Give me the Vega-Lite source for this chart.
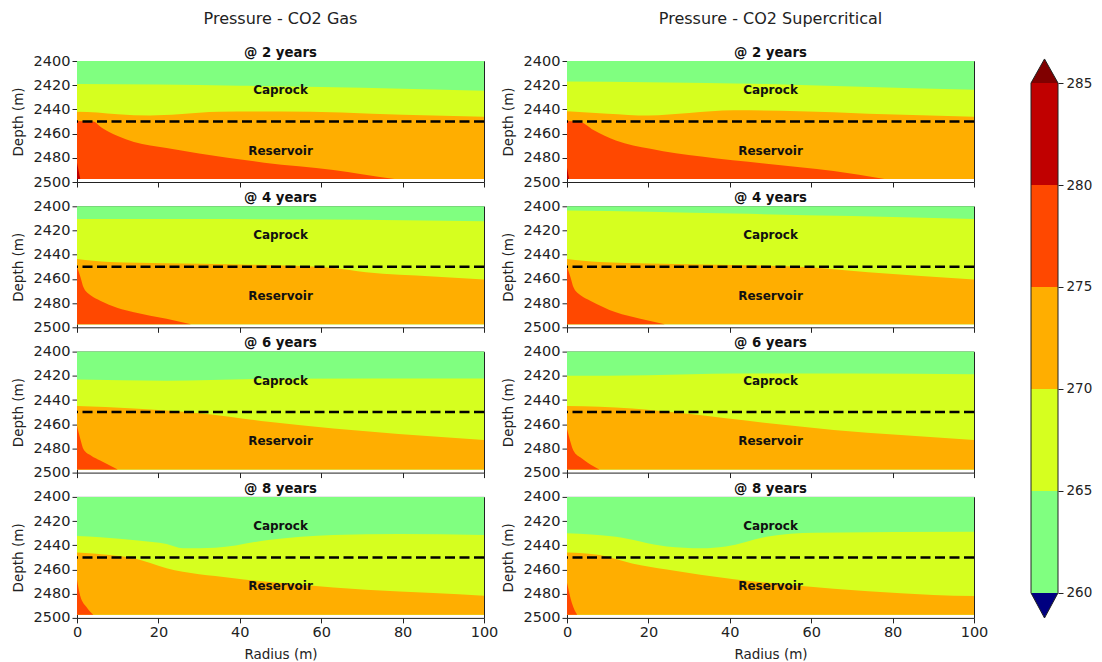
{
 "$schema": "https://vega.github.io/schema/vega-lite/v6.json",
 "background": "white",
 "padding": {"left": 10, "top": 10, "right": 5, "bottom": 2},
 "datasets": {
  "bands": [
   {"panel":"gas2","band":"b1","radius":0,"depth":2400},{"panel":"gas2","band":"b1","radius":100,"depth":2400},
   {"panel":"gas2","band":"b2","radius":0,"depth":2419},{"panel":"gas2","band":"b2","radius":20,"depth":2419.5},{"panel":"gas2","band":"b2","radius":40,"depth":2420.5},{"panel":"gas2","band":"b2","radius":60,"depth":2421.5},{"panel":"gas2","band":"b2","radius":80,"depth":2423},{"panel":"gas2","band":"b2","radius":100,"depth":2424.5},
   {"panel":"gas2","band":"b3","radius":0,"depth":2442},{"panel":"gas2","band":"b3","radius":5,"depth":2442.5},{"panel":"gas2","band":"b3","radius":10,"depth":2444},{"panel":"gas2","band":"b3","radius":18,"depth":2445},{"panel":"gas2","band":"b3","radius":25,"depth":2444},{"panel":"gas2","band":"b3","radius":35,"depth":2442},{"panel":"gas2","band":"b3","radius":50,"depth":2441.8},{"panel":"gas2","band":"b3","radius":65,"depth":2442.5},{"panel":"gas2","band":"b3","radius":80,"depth":2444.5},{"panel":"gas2","band":"b3","radius":100,"depth":2446},
   {"panel":"gas2","band":"b4","radius":0,"depth":2449.5},{"panel":"gas2","band":"b4","radius":4,"depth":2450},{"panel":"gas2","band":"b4","radius":6,"depth":2455},{"panel":"gas2","band":"b4","radius":10,"depth":2462},{"panel":"gas2","band":"b4","radius":14,"depth":2467},{"panel":"gas2","band":"b4","radius":22,"depth":2472},{"panel":"gas2","band":"b4","radius":30,"depth":2476.5},{"panel":"gas2","band":"b4","radius":46,"depth":2484},{"panel":"gas2","band":"b4","radius":63,"depth":2490},{"panel":"gas2","band":"b4","radius":70,"depth":2493.5},{"panel":"gas2","band":"b4","radius":78,"depth":2497.5},
   {"panel":"gas2","band":"b5","radius":0,"depth":2484},{"panel":"gas2","band":"b5","radius":0.8,"depth":2497.5},

   {"panel":"sc2","band":"b1","radius":0,"depth":2400},{"panel":"sc2","band":"b1","radius":100,"depth":2400},
   {"panel":"sc2","band":"b2","radius":0,"depth":2417},{"panel":"sc2","band":"b2","radius":20,"depth":2417.5},{"panel":"sc2","band":"b2","radius":49,"depth":2419},{"panel":"sc2","band":"b2","radius":70,"depth":2421},{"panel":"sc2","band":"b2","radius":100,"depth":2423.7},
   {"panel":"sc2","band":"b3","radius":0,"depth":2441.6},{"panel":"sc2","band":"b3","radius":10,"depth":2443.5},{"panel":"sc2","band":"b3","radius":20,"depth":2445},{"panel":"sc2","band":"b3","radius":30,"depth":2443},{"panel":"sc2","band":"b3","radius":41,"depth":2440.8},{"panel":"sc2","band":"b3","radius":57,"depth":2441.6},{"panel":"sc2","band":"b3","radius":74,"depth":2443.5},{"panel":"sc2","band":"b3","radius":100,"depth":2446},
   {"panel":"sc2","band":"b4","radius":0,"depth":2449.5},{"panel":"sc2","band":"b4","radius":3,"depth":2450},{"panel":"sc2","band":"b4","radius":6.5,"depth":2457},{"panel":"sc2","band":"b4","radius":12,"depth":2465.6},{"panel":"sc2","band":"b4","radius":20.5,"depth":2472.5},{"panel":"sc2","band":"b4","radius":33,"depth":2479},{"panel":"sc2","band":"b4","radius":49,"depth":2485},{"panel":"sc2","band":"b4","radius":65.5,"depth":2491},{"panel":"sc2","band":"b4","radius":78,"depth":2497.5},
   {"panel":"sc2","band":"b5","radius":0,"depth":2488},{"panel":"sc2","band":"b5","radius":0.5,"depth":2497.5},

   {"panel":"gas4","band":"b1","radius":0,"depth":2400},{"panel":"gas4","band":"b1","radius":100,"depth":2400},
   {"panel":"gas4","band":"b2","radius":0,"depth":2410.5},{"panel":"gas4","band":"b2","radius":30,"depth":2410.5},{"panel":"gas4","band":"b2","radius":60,"depth":2411},{"panel":"gas4","band":"b2","radius":80,"depth":2411.5},{"panel":"gas4","band":"b2","radius":100,"depth":2412.4},
   {"panel":"gas4","band":"b3","radius":0,"depth":2443.5},{"panel":"gas4","band":"b3","radius":8,"depth":2446},{"panel":"gas4","band":"b3","radius":22,"depth":2447},{"panel":"gas4","band":"b3","radius":40,"depth":2448},{"panel":"gas4","band":"b3","radius":55,"depth":2449.3},{"panel":"gas4","band":"b3","radius":63,"depth":2451},{"panel":"gas4","band":"b3","radius":71,"depth":2454.5},{"panel":"gas4","band":"b3","radius":87.5,"depth":2458},{"panel":"gas4","band":"b3","radius":100,"depth":2460.5},
   {"panel":"gas4","band":"b4","radius":0,"depth":2450},{"panel":"gas4","band":"b4","radius":0.8,"depth":2458},{"panel":"gas4","band":"b4","radius":1.6,"depth":2467},{"panel":"gas4","band":"b4","radius":3.5,"depth":2474},{"panel":"gas4","band":"b4","radius":5.7,"depth":2478},{"panel":"gas4","band":"b4","radius":10,"depth":2484},{"panel":"gas4","band":"b4","radius":14,"depth":2487.6},{"panel":"gas4","band":"b4","radius":22,"depth":2493},{"panel":"gas4","band":"b4","radius":28,"depth":2497.5},

   {"panel":"sc4","band":"b1","radius":0,"depth":2400},{"panel":"sc4","band":"b1","radius":100,"depth":2400},
   {"panel":"sc4","band":"b2","radius":0,"depth":2403.5},{"panel":"sc4","band":"b2","radius":20,"depth":2404.5},{"panel":"sc4","band":"b2","radius":41,"depth":2406},{"panel":"sc4","band":"b2","radius":70,"depth":2408},{"panel":"sc4","band":"b2","radius":100,"depth":2410.5},
   {"panel":"sc4","band":"b3","radius":0,"depth":2443.5},{"panel":"sc4","band":"b3","radius":8,"depth":2446},{"panel":"sc4","band":"b3","radius":33,"depth":2448},{"panel":"sc4","band":"b3","radius":57,"depth":2450},{"panel":"sc4","band":"b3","radius":74,"depth":2454.5},{"panel":"sc4","band":"b3","radius":100,"depth":2460.5},
   {"panel":"sc4","band":"b4","radius":0,"depth":2450},{"panel":"sc4","band":"b4","radius":0.8,"depth":2458},{"panel":"sc4","band":"b4","radius":1.6,"depth":2467},{"panel":"sc4","band":"b4","radius":3.5,"depth":2474},{"panel":"sc4","band":"b4","radius":5.7,"depth":2478},{"panel":"sc4","band":"b4","radius":12,"depth":2487.6},{"panel":"sc4","band":"b4","radius":18,"depth":2493},{"panel":"sc4","band":"b4","radius":24,"depth":2497.5},

   {"panel":"gas6","band":"b1","radius":0,"depth":2400},{"panel":"gas6","band":"b1","radius":100,"depth":2400},
   {"panel":"gas6","band":"b2","radius":0,"depth":2423},{"panel":"gas6","band":"b2","radius":22,"depth":2424},{"panel":"gas6","band":"b2","radius":47,"depth":2422.5},{"panel":"gas6","band":"b2","radius":100,"depth":2422.3},
   {"panel":"gas6","band":"b3","radius":0,"depth":2445},{"panel":"gas6","band":"b3","radius":14,"depth":2447},{"panel":"gas6","band":"b3","radius":30,"depth":2451},{"panel":"gas6","band":"b3","radius":47,"depth":2458},{"panel":"gas6","band":"b3","radius":63,"depth":2463.6},{"panel":"gas6","band":"b3","radius":79,"depth":2468},{"panel":"gas6","band":"b3","radius":100,"depth":2473},
   {"panel":"gas6","band":"b4","radius":0,"depth":2461.5},{"panel":"gas6","band":"b4","radius":0.8,"depth":2472},{"panel":"gas6","band":"b4","radius":1.6,"depth":2480.7},{"panel":"gas6","band":"b4","radius":3.5,"depth":2486},{"panel":"gas6","band":"b4","radius":5.7,"depth":2490},{"panel":"gas6","band":"b4","radius":10,"depth":2497.5},

   {"panel":"sc6","band":"b1","radius":0,"depth":2400},{"panel":"sc6","band":"b1","radius":100,"depth":2400},
   {"panel":"sc6","band":"b2","radius":0,"depth":2420},{"panel":"sc6","band":"b2","radius":20,"depth":2419.5},{"panel":"sc6","band":"b2","radius":41,"depth":2418},{"panel":"sc6","band":"b2","radius":70,"depth":2418},{"panel":"sc6","band":"b2","radius":100,"depth":2418.7},
   {"panel":"sc6","band":"b3","radius":0,"depth":2445},{"panel":"sc6","band":"b3","radius":16,"depth":2447},{"panel":"sc6","band":"b3","radius":28.6,"depth":2451},{"panel":"sc6","band":"b3","radius":49,"depth":2459},{"panel":"sc6","band":"b3","radius":65.5,"depth":2464.7},{"panel":"sc6","band":"b3","radius":82,"depth":2469},{"panel":"sc6","band":"b3","radius":100,"depth":2473},
   {"panel":"sc6","band":"b4","radius":0,"depth":2464},{"panel":"sc6","band":"b4","radius":0.8,"depth":2474},{"panel":"sc6","band":"b4","radius":1.6,"depth":2482},{"panel":"sc6","band":"b4","radius":3.5,"depth":2488},{"panel":"sc6","band":"b4","radius":5,"depth":2491.7},{"panel":"sc6","band":"b4","radius":8,"depth":2497.5},

   {"panel":"gas8","band":"b1","radius":0,"depth":2400},{"panel":"gas8","band":"b1","radius":100,"depth":2400},
   {"panel":"gas8","band":"b2","radius":0,"depth":2432.3},{"panel":"gas8","band":"b2","radius":5.7,"depth":2433.4},{"panel":"gas8","band":"b2","radius":15,"depth":2436},{"panel":"gas8","band":"b2","radius":22,"depth":2439},{"panel":"gas8","band":"b2","radius":26,"depth":2442.5},{"panel":"gas8","band":"b2","radius":34,"depth":2442},{"panel":"gas8","band":"b2","radius":47,"depth":2435.6},{"panel":"gas8","band":"b2","radius":63,"depth":2431.5},{"panel":"gas8","band":"b2","radius":79,"depth":2430.7},{"panel":"gas8","band":"b2","radius":100,"depth":2431.5},
   {"panel":"gas8","band":"b3","radius":0,"depth":2446},{"panel":"gas8","band":"b3","radius":8,"depth":2448},{"panel":"gas8","band":"b3","radius":14,"depth":2450.7},{"panel":"gas8","band":"b3","radius":22,"depth":2459},{"panel":"gas8","band":"b3","radius":38,"depth":2467},{"panel":"gas8","band":"b3","radius":55,"depth":2472.6},{"panel":"gas8","band":"b3","radius":71,"depth":2476.7},{"panel":"gas8","band":"b3","radius":87.5,"depth":2479.5},{"panel":"gas8","band":"b3","radius":100,"depth":2481.6},
   {"panel":"gas8","band":"b4","radius":0,"depth":2468.5},{"panel":"gas8","band":"b4","radius":0.8,"depth":2482},{"panel":"gas8","band":"b4","radius":2.5,"depth":2491.8},{"panel":"gas8","band":"b4","radius":4,"depth":2497.5},

   {"panel":"sc8","band":"b1","radius":0,"depth":2400},{"panel":"sc8","band":"b1","radius":100,"depth":2400},
   {"panel":"sc8","band":"b2","radius":0,"depth":2430},{"panel":"sc8","band":"b2","radius":12,"depth":2433},{"panel":"sc8","band":"b2","radius":24.5,"depth":2441},{"panel":"sc8","band":"b2","radius":33,"depth":2442.5},{"panel":"sc8","band":"b2","radius":39,"depth":2441},{"panel":"sc8","band":"b2","radius":49,"depth":2433},{"panel":"sc8","band":"b2","radius":61,"depth":2429.6},{"panel":"sc8","band":"b2","radius":100,"depth":2428.8},
   {"panel":"sc8","band":"b3","radius":0,"depth":2446},{"panel":"sc8","band":"b3","radius":8,"depth":2448},{"panel":"sc8","band":"b3","radius":16,"depth":2455},{"panel":"sc8","band":"b3","radius":24.5,"depth":2460},{"panel":"sc8","band":"b3","radius":41,"depth":2468},{"panel":"sc8","band":"b3","radius":57,"depth":2473.4},{"panel":"sc8","band":"b3","radius":74,"depth":2478},{"panel":"sc8","band":"b3","radius":90,"depth":2481},{"panel":"sc8","band":"b3","radius":100,"depth":2482},
   {"panel":"sc8","band":"b4","radius":0,"depth":2471},{"panel":"sc8","band":"b4","radius":1.2,"depth":2487.7},{"panel":"sc8","band":"b4","radius":2.5,"depth":2497.5}
  ],
  "notes": [{"label":"Caprock","radius":50,"depth":2424},{"label":"Reservoir","radius":50,"depth":2474}],
  "interface": [{"depth":2450}],
  "cbar": [{"band":"b1","lo":260,"hi":265},{"band":"b2","lo":265,"hi":270},{"band":"b3","lo":270,"hi":275},{"band":"b4","lo":275,"hi":280},{"band":"b5","lo":280,"hi":285}],
  "cbtri": [{"band":"b6","pos":0,"val":285,"base":285},{"band":"b6","pos":0.5,"val":286.18,"base":285},{"band":"b6","pos":1,"val":285,"base":285},
            {"band":"b0","pos":0,"val":260,"base":260},{"band":"b0","pos":0.5,"val":258.77,"base":260},{"band":"b0","pos":1,"val":260,"base":260}],
  "cbline": [{"seq":1,"pos":0,"val":260},{"seq":2,"pos":0,"val":285},{"seq":3,"pos":0.5,"val":286.18},{"seq":4,"pos":1,"val":285},{"seq":5,"pos":1,"val":260},{"seq":6,"pos":0.5,"val":258.77},{"seq":7,"pos":0,"val":260}]
 },
 "hconcat": [
  {"hconcat": [
   {"spacing": 1.3,
    "vconcat": [
     {"title": {"text": "Pressure - CO2 Gas", "subtitle": "@ 2 years", "fontSize": 16, "fontWeight": "normal", "color": "#222", "subtitleFont": "DejaVu Sans", "subtitleFontSize": 13.3, "subtitleFontWeight": "bold", "subtitleColor": "#111", "subtitlePadding": 18.7, "offset": -6},
      "width": 407, "height": 121, "layer": [
      {"data": {"name": "bands"}, "transform": [{"filter": "datum.panel === 'gas2'"}], "mark": {"type": "area", "interpolate": "monotone"},
       "encoding": {"x": {"field": "radius", "type": "quantitative", "scale": {"domain": [0, 100], "nice": false}, "axis": {"values": [0,20,40,60,80,100], "labels": false, "title": null}},
        "y": {"field": "depth", "type": "quantitative", "stack": null, "scale": {"domain": [2400, 2500], "reverse": true, "nice": false, "zero": false}, "axis": {"values": [2400,2420,2440,2460,2480,2500], "tickCount": 6, "format": "d", "labelOverlap": false, "title": "Depth (m)"}},
        "y2": {"datum": 2497.5},
        "color": {"field": "band", "type": "nominal", "scale": {"domain": ["b0","b1","b2","b3","b4","b5","b6"], "range": ["#000080","#80ff80","#d6ff1f","#ffae00","#ff4800","#c00000","#800000"]}, "legend": null}}},
      {"data": {"name": "interface"}, "mark": {"type": "rule", "strokeDash": [10, 4.5], "strokeWidth": 2.5, "color": "#000"}, "encoding": {"y": {"field": "depth", "type": "quantitative"}}},
      {"data": {"name": "notes"}, "mark": {"type": "text", "fontWeight": "bold", "fontSize": 12, "color": "#111"}, "encoding": {"x": {"field": "radius", "type": "quantitative"}, "y": {"field": "depth", "type": "quantitative"}, "text": {"field": "label"}}}
     ]},
     {"title": "@ 4 years", "width": 407, "height": 121, "layer": [
      {"data": {"name": "bands"}, "transform": [{"filter": "datum.panel === 'gas4'"}], "mark": {"type": "area", "interpolate": "monotone"},
       "encoding": {"x": {"field": "radius", "type": "quantitative", "scale": {"domain": [0, 100], "nice": false}, "axis": {"values": [0,20,40,60,80,100], "labels": false, "title": null}},
        "y": {"field": "depth", "type": "quantitative", "stack": null, "scale": {"domain": [2400, 2500], "reverse": true, "nice": false, "zero": false}, "axis": {"values": [2400,2420,2440,2460,2480,2500], "tickCount": 6, "format": "d", "labelOverlap": false, "title": "Depth (m)"}},
        "y2": {"datum": 2497.5},
        "color": {"field": "band", "type": "nominal", "scale": {"domain": ["b0","b1","b2","b3","b4","b5","b6"], "range": ["#000080","#80ff80","#d6ff1f","#ffae00","#ff4800","#c00000","#800000"]}, "legend": null}}},
      {"data": {"name": "interface"}, "mark": {"type": "rule", "strokeDash": [10, 4.5], "strokeWidth": 2.5, "color": "#000"}, "encoding": {"y": {"field": "depth", "type": "quantitative"}}},
      {"data": {"name": "notes"}, "mark": {"type": "text", "fontWeight": "bold", "fontSize": 12, "color": "#111"}, "encoding": {"x": {"field": "radius", "type": "quantitative"}, "y": {"field": "depth", "type": "quantitative"}, "text": {"field": "label"}}}
     ]},
     {"title": "@ 6 years", "width": 407, "height": 121, "layer": [
      {"data": {"name": "bands"}, "transform": [{"filter": "datum.panel === 'gas6'"}], "mark": {"type": "area", "interpolate": "monotone"},
       "encoding": {"x": {"field": "radius", "type": "quantitative", "scale": {"domain": [0, 100], "nice": false}, "axis": {"values": [0,20,40,60,80,100], "labels": false, "title": null}},
        "y": {"field": "depth", "type": "quantitative", "stack": null, "scale": {"domain": [2400, 2500], "reverse": true, "nice": false, "zero": false}, "axis": {"values": [2400,2420,2440,2460,2480,2500], "tickCount": 6, "format": "d", "labelOverlap": false, "title": "Depth (m)"}},
        "y2": {"datum": 2497.5},
        "color": {"field": "band", "type": "nominal", "scale": {"domain": ["b0","b1","b2","b3","b4","b5","b6"], "range": ["#000080","#80ff80","#d6ff1f","#ffae00","#ff4800","#c00000","#800000"]}, "legend": null}}},
      {"data": {"name": "interface"}, "mark": {"type": "rule", "strokeDash": [10, 4.5], "strokeWidth": 2.5, "color": "#000"}, "encoding": {"y": {"field": "depth", "type": "quantitative"}}},
      {"data": {"name": "notes"}, "mark": {"type": "text", "fontWeight": "bold", "fontSize": 12, "color": "#111"}, "encoding": {"x": {"field": "radius", "type": "quantitative"}, "y": {"field": "depth", "type": "quantitative"}, "text": {"field": "label"}}}
     ]},
     {"title": "@ 8 years", "width": 407, "height": 121, "layer": [
      {"data": {"name": "bands"}, "transform": [{"filter": "datum.panel === 'gas8'"}], "mark": {"type": "area", "interpolate": "monotone"},
       "encoding": {"x": {"field": "radius", "type": "quantitative", "scale": {"domain": [0, 100], "nice": false}, "axis": {"values": [0,20,40,60,80,100], "title": "Radius (m)"}},
        "y": {"field": "depth", "type": "quantitative", "stack": null, "scale": {"domain": [2400, 2500], "reverse": true, "nice": false, "zero": false}, "axis": {"values": [2400,2420,2440,2460,2480,2500], "tickCount": 6, "format": "d", "labelOverlap": false, "title": "Depth (m)"}},
        "y2": {"datum": 2497.5},
        "color": {"field": "band", "type": "nominal", "scale": {"domain": ["b0","b1","b2","b3","b4","b5","b6"], "range": ["#000080","#80ff80","#d6ff1f","#ffae00","#ff4800","#c00000","#800000"]}, "legend": null}}},
      {"data": {"name": "interface"}, "mark": {"type": "rule", "strokeDash": [10, 4.5], "strokeWidth": 2.5, "color": "#000"}, "encoding": {"y": {"field": "depth", "type": "quantitative"}}},
      {"data": {"name": "notes"}, "mark": {"type": "text", "fontWeight": "bold", "fontSize": 12, "color": "#111"}, "encoding": {"x": {"field": "radius", "type": "quantitative"}, "y": {"field": "depth", "type": "quantitative"}, "text": {"field": "label"}}}
     ]}
    ]},
   {"spacing": 1.3,
    "vconcat": [
     {"title": {"text": "Pressure - CO2 Supercritical", "subtitle": "@ 2 years", "fontSize": 16, "fontWeight": "normal", "color": "#222", "subtitleFont": "DejaVu Sans", "subtitleFontSize": 13.3, "subtitleFontWeight": "bold", "subtitleColor": "#111", "subtitlePadding": 18.7, "offset": -6},
      "width": 407, "height": 121, "layer": [
      {"data": {"name": "bands"}, "transform": [{"filter": "datum.panel === 'sc2'"}], "mark": {"type": "area", "interpolate": "monotone"},
       "encoding": {"x": {"field": "radius", "type": "quantitative", "scale": {"domain": [0, 100], "nice": false}, "axis": {"values": [0,20,40,60,80,100], "labels": false, "title": null}},
        "y": {"field": "depth", "type": "quantitative", "stack": null, "scale": {"domain": [2400, 2500], "reverse": true, "nice": false, "zero": false}, "axis": {"values": [2400,2420,2440,2460,2480,2500], "tickCount": 6, "format": "d", "labelOverlap": false, "title": "Depth (m)"}},
        "y2": {"datum": 2497.5},
        "color": {"field": "band", "type": "nominal", "scale": {"domain": ["b0","b1","b2","b3","b4","b5","b6"], "range": ["#000080","#80ff80","#d6ff1f","#ffae00","#ff4800","#c00000","#800000"]}, "legend": null}}},
      {"data": {"name": "interface"}, "mark": {"type": "rule", "strokeDash": [10, 4.5], "strokeWidth": 2.5, "color": "#000"}, "encoding": {"y": {"field": "depth", "type": "quantitative"}}},
      {"data": {"name": "notes"}, "mark": {"type": "text", "fontWeight": "bold", "fontSize": 12, "color": "#111"}, "encoding": {"x": {"field": "radius", "type": "quantitative"}, "y": {"field": "depth", "type": "quantitative"}, "text": {"field": "label"}}}
     ]},
     {"title": "@ 4 years", "width": 407, "height": 121, "layer": [
      {"data": {"name": "bands"}, "transform": [{"filter": "datum.panel === 'sc4'"}], "mark": {"type": "area", "interpolate": "monotone"},
       "encoding": {"x": {"field": "radius", "type": "quantitative", "scale": {"domain": [0, 100], "nice": false}, "axis": {"values": [0,20,40,60,80,100], "labels": false, "title": null}},
        "y": {"field": "depth", "type": "quantitative", "stack": null, "scale": {"domain": [2400, 2500], "reverse": true, "nice": false, "zero": false}, "axis": {"values": [2400,2420,2440,2460,2480,2500], "tickCount": 6, "format": "d", "labelOverlap": false, "title": "Depth (m)"}},
        "y2": {"datum": 2497.5},
        "color": {"field": "band", "type": "nominal", "scale": {"domain": ["b0","b1","b2","b3","b4","b5","b6"], "range": ["#000080","#80ff80","#d6ff1f","#ffae00","#ff4800","#c00000","#800000"]}, "legend": null}}},
      {"data": {"name": "interface"}, "mark": {"type": "rule", "strokeDash": [10, 4.5], "strokeWidth": 2.5, "color": "#000"}, "encoding": {"y": {"field": "depth", "type": "quantitative"}}},
      {"data": {"name": "notes"}, "mark": {"type": "text", "fontWeight": "bold", "fontSize": 12, "color": "#111"}, "encoding": {"x": {"field": "radius", "type": "quantitative"}, "y": {"field": "depth", "type": "quantitative"}, "text": {"field": "label"}}}
     ]},
     {"title": "@ 6 years", "width": 407, "height": 121, "layer": [
      {"data": {"name": "bands"}, "transform": [{"filter": "datum.panel === 'sc6'"}], "mark": {"type": "area", "interpolate": "monotone"},
       "encoding": {"x": {"field": "radius", "type": "quantitative", "scale": {"domain": [0, 100], "nice": false}, "axis": {"values": [0,20,40,60,80,100], "labels": false, "title": null}},
        "y": {"field": "depth", "type": "quantitative", "stack": null, "scale": {"domain": [2400, 2500], "reverse": true, "nice": false, "zero": false}, "axis": {"values": [2400,2420,2440,2460,2480,2500], "tickCount": 6, "format": "d", "labelOverlap": false, "title": "Depth (m)"}},
        "y2": {"datum": 2497.5},
        "color": {"field": "band", "type": "nominal", "scale": {"domain": ["b0","b1","b2","b3","b4","b5","b6"], "range": ["#000080","#80ff80","#d6ff1f","#ffae00","#ff4800","#c00000","#800000"]}, "legend": null}}},
      {"data": {"name": "interface"}, "mark": {"type": "rule", "strokeDash": [10, 4.5], "strokeWidth": 2.5, "color": "#000"}, "encoding": {"y": {"field": "depth", "type": "quantitative"}}},
      {"data": {"name": "notes"}, "mark": {"type": "text", "fontWeight": "bold", "fontSize": 12, "color": "#111"}, "encoding": {"x": {"field": "radius", "type": "quantitative"}, "y": {"field": "depth", "type": "quantitative"}, "text": {"field": "label"}}}
     ]},
     {"title": "@ 8 years", "width": 407, "height": 121, "layer": [
      {"data": {"name": "bands"}, "transform": [{"filter": "datum.panel === 'sc8'"}], "mark": {"type": "area", "interpolate": "monotone"},
       "encoding": {"x": {"field": "radius", "type": "quantitative", "scale": {"domain": [0, 100], "nice": false}, "axis": {"values": [0,20,40,60,80,100], "title": "Radius (m)"}},
        "y": {"field": "depth", "type": "quantitative", "stack": null, "scale": {"domain": [2400, 2500], "reverse": true, "nice": false, "zero": false}, "axis": {"values": [2400,2420,2440,2460,2480,2500], "tickCount": 6, "format": "d", "labelOverlap": false, "title": "Depth (m)"}},
        "y2": {"datum": 2497.5},
        "color": {"field": "band", "type": "nominal", "scale": {"domain": ["b0","b1","b2","b3","b4","b5","b6"], "range": ["#000080","#80ff80","#d6ff1f","#ffae00","#ff4800","#c00000","#800000"]}, "legend": null}}},
      {"data": {"name": "interface"}, "mark": {"type": "rule", "strokeDash": [10, 4.5], "strokeWidth": 2.5, "color": "#000"}, "encoding": {"y": {"field": "depth", "type": "quantitative"}}},
      {"data": {"name": "notes"}, "mark": {"type": "text", "fontWeight": "bold", "fontSize": 12, "color": "#111"}, "encoding": {"x": {"field": "radius", "type": "quantitative"}, "y": {"field": "depth", "type": "quantitative"}, "text": {"field": "label"}}}
     ]}
    ]}
  ], "spacing": 1},
  {"width": 27, "height": 557, "view": {"stroke": null}, "layer": [
    {"data": {"name": "cbar"}, "mark": {"type": "rect"},
     "encoding": {"x": {"datum": 0, "type": "quantitative", "scale": {"domain": [0, 1], "nice": false}, "axis": null}, "x2": {"datum": 1},
      "y": {"field": "lo", "type": "quantitative", "scale": {"domain": [258.77, 286.08], "nice": false, "zero": false}, "axis": {"orient": "right", "values": [260,265,270,275,280,285], "title": null, "labelFontSize": 13.5, "labelPadding": 3}},
      "y2": {"field": "hi"},
      "color": {"field": "band", "type": "nominal", "scale": {"domain": ["b0","b1","b2","b3","b4","b5","b6"], "range": ["#000080","#80ff80","#d6ff1f","#ffae00","#ff4800","#c00000","#800000"]}, "legend": null}}},
    {"data": {"name": "cbtri"}, "mark": {"type": "area", "clip": false},
     "encoding": {"x": {"field": "pos", "type": "quantitative", "axis": null},
      "y": {"field": "val", "type": "quantitative", "stack": null, "axis": {"orient": "right", "values": [260,265,270,275,280,285], "title": null, "labelFontSize": 13.5, "labelPadding": 3}}, "y2": {"field": "base"},
      "color": {"field": "band", "type": "nominal", "scale": {"domain": ["b0","b1","b2","b3","b4","b5","b6"], "range": ["#000080","#80ff80","#d6ff1f","#ffae00","#ff4800","#c00000","#800000"]}, "legend": null}}},
    {"data": {"name": "cbline"}, "mark": {"type": "line", "color": "#222", "strokeWidth": 1, "clip": false},
     "encoding": {"x": {"field": "pos", "type": "quantitative", "axis": null}, "y": {"field": "val", "type": "quantitative", "axis": {"orient": "right", "values": [260,265,270,275,280,285], "title": null, "labelFontSize": 13.5, "labelPadding": 3}}, "order": {"field": "seq", "type": "quantitative"}}}
  ]}
 ],
 "spacing": 40,
 "config": {
  "font": "DejaVu Sans",
  "view": {"stroke": "#222", "strokeWidth": 1},
  "axis": {"grid": false, "domain": false, "ticks": true, "tickColor": "#222", "tickSize": 5, "tickWidth": 1, "labelColor": "#222", "labelFontSize": 14.5, "labelOverlap": false, "titleColor": "#222", "titleFontSize": 13.5, "titleFontWeight": "normal"},
  "axisY": {"labelPadding": 2, "titlePadding": 8, "tickCount": 6},
  "axisX": {"labelPadding": 2.5, "labelFlush": false, "titlePadding": 8.5, "tickCount": 6},
  "title": {"fontSize": 13.3, "fontWeight": "bold", "color": "#111", "offset": -6, "frame": "group", "anchor": "middle"}
 }
}
